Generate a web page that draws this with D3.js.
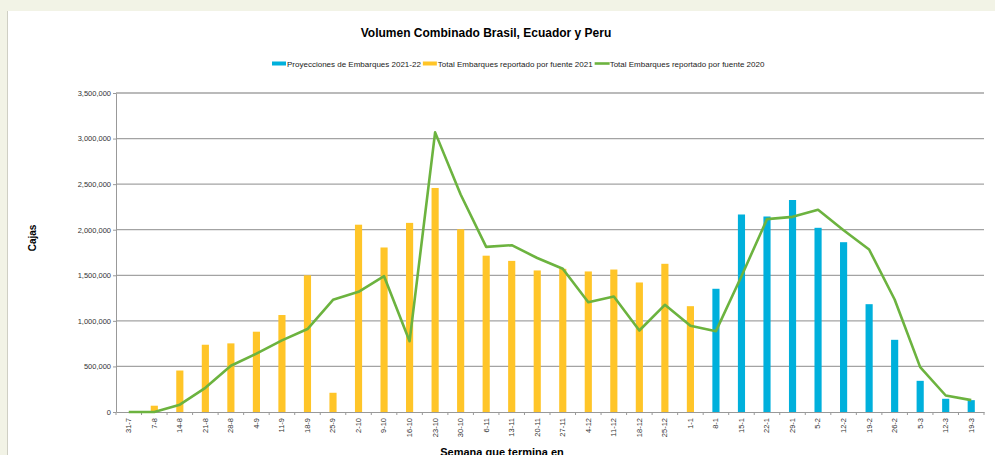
<!DOCTYPE html>
<html lang="es">
<head>
<meta charset="utf-8">
<style>
  body { margin: 0; background: #f2f3e6; }
  svg { display: block; font-family: 'Liberation Sans', Arial, sans-serif; }
  .axis text { fill: #333; }
  .axis path, .axis line { stroke: #999; }
  .grid line { stroke: #a3a3a3; stroke-width: 1.3px; }
</style>
</head>
<body>
<svg width="995" height="455"></svg>
<script src="https://d3js.org/d3.v7.min.js"></script>
<script>
// semana que termina en
const categories = ["31-7","7-8","14-8","21-8","28-8","4-9","11-9","18-9","25-9","2-10","9-10","16-10",
  "23-10","30-10","6-11","13-11","20-11","27-11","4-12","11-12","18-12","25-12","1-1","8-1",
  "15-1","22-1","29-1","5-2","12-2","19-2","26-2","5-3","12-3","19-3"]

// Total Embarques reportado por fuente 2021 (amarillo)
const reported2021 = [0, 69000, 455000, 738000, 753000, 881000, 1064000, 1500000, 211000, 2055000,
  1805000, 2075000, 2458000, 2005000, 1715000, 1658000, 1553000, 1571000, 1542000, 1563000,
  1421000, 1626000, 1161000, null, null, null, null, null, null, null, null, null, null, null]

// Proyecciones de Embarques 2021-22 (azul)
const projections = [null, null, null, null, null, null, null, null, null, null, null, null,
  null, null, null, null, null, null, null, null, null, null, null, 1352000,
  2167000, 2145000, 2326000, 2021000, 1863000, 1183000, 792000, 342000, 145000, 130000]

// Total Embarques reportado por fuente 2020 (linea verde)
const reported2020 = [0, 0, 80000, 265000, 508000, 640000, 786000, 910000, 1231000, 1319000,
  1490000, 777000, 3068000, 2386000, 1812000, 1830000, 1690000, 1571000, 1205000, 1267000,
  894000, 1176000, 947000, 887000, 1490000, 2116000, 2141000, 2218000, 1995000, 1783000,
  1234000, 492000, 181000, 130000]

const yTicks = [0, 500000, 1000000, 1500000, 2000000, 2500000, 3000000, 3500000]

const colors = { proj: "#00b0dc", rep2021: "#ffc528", rep2020: "#6cb33f" }

const width = 995
const height = 455
const margin = { top: 93, right: 11, bottom: 43, left: 116 }

const svg = d3.select("svg")

// panel
svg.append("rect").attr("x", 7).attr("y", 11).attr("width", width).attr("height", height)
  .attr("fill", "white")
svg.append("line").attr("x1", 7.5).attr("x2", 7.5).attr("y1", 11).attr("y2", height)
  .attr("stroke", "#cfcfc4")

const x = d3.scaleBand().domain(categories)
  .range([margin.left, width - margin.right]).padding(0)
const y = d3.scaleLinear().domain([0, 3500000]).range([height - margin.bottom, margin.top])

const cx = d => x(d) + x.bandwidth() / 2
const barW = x.bandwidth() * 0.28

// gridlines
svg.append("g").attr("class", "grid")
  .selectAll("line").data(yTicks.slice(1)).join("line")
  .attr("x1", margin.left).attr("x2", width - margin.right)
  .attr("y1", d => y(d)).attr("y2", d => y(d))

// bars
const barData = categories.map((c, i) => ({ c: c, v: reported2021[i], s: "rep2021" }))
  .concat(categories.map((c, i) => ({ c: c, v: projections[i], s: "proj" })))
  .filter(d => d.v != null && d.v > 0)

svg.append("g").selectAll("rect").data(barData).join("rect")
  .attr("x", d => cx(d.c) - barW / 2)
  .attr("width", barW)
  .attr("y", d => y(d.v))
  .attr("height", d => y(0) - y(d.v))
  .attr("fill", d => colors[d.s])

// axes
const yAxis = d3.axisLeft(y).tickValues(yTicks).tickSize(3).tickSizeOuter(0)
  .tickFormat(d3.format(","))
svg.append("g").attr("class", "axis y-axis")
  .attr("transform", "translate(" + margin.left + ",0)")
  .call(yAxis)
  .call(g => g.selectAll("text").attr("font-size", 7.5).attr("x", -5))

const xAxis = d3.axisBottom(x).tickSize(0).tickSizeOuter(0)
const xg = svg.append("g").attr("class", "axis x-axis")
  .attr("transform", "translate(0," + y(0) + ")")
  .call(xAxis)
xg.selectAll("text")
  .attr("font-size", 7.5)
  .attr("transform", "rotate(-90)")
  .attr("text-anchor", "end")
  .attr("x", -6).attr("y", 0).attr("dy", "0.32em")
// ticks between categories
xg.selectAll("line.sep").data(categories.concat(["__end"])).join("line")
  .attr("class", "sep")
  .attr("x1", (d, i) => margin.left + i * x.step())
  .attr("x2", (d, i) => margin.left + i * x.step())
  .attr("y1", 0).attr("y2", 3)

// line 2020
const line = d3.line()
  .x((d, i) => cx(categories[i]))
  .y(d => y(d))
svg.append("path").datum(reported2020)
  .attr("d", line)
  .attr("fill", "none")
  .attr("stroke", colors.rep2020)
  .attr("stroke-width", 2.6)
  .attr("stroke-linejoin", "round")

// title
svg.append("text").attr("x", 486).attr("y", 37)
  .attr("text-anchor", "middle").attr("font-size", 12).attr("font-weight", "bold")
  .text("Volumen Combinado Brasil, Ecuador y Peru")

// axis titles
svg.append("text")
  .attr("transform", "translate(36,238) rotate(-90)")
  .attr("text-anchor", "middle").attr("font-size", 10).attr("font-weight", "bold")
  .text("Cajas")
svg.append("text").attr("x", 502).attr("y", 456)
  .attr("text-anchor", "middle").attr("font-size", 11).attr("font-weight", "bold")
  .text("Semana que termina en")

// legend
const legendItems = [
  { key: "proj", label: "Proyecciones de Embarques 2021-22", type: "rect" },
  { key: "rep2021", label: "Total Embarques reportado por fuente 2021", type: "rect" },
  { key: "rep2020", label: "Total Embarques reportado por fuente 2020", type: "line" }
]
const legend = svg.append("g").attr("transform", "translate(272,0)")
let lx = 0
legendItems.forEach(item => {
  if (item.type === "rect") {
    legend.append("rect").attr("x", lx).attr("y", 61.5).attr("width", 14).attr("height", 4)
      .attr("fill", colors[item.key])
  } else {
    legend.append("line").attr("x1", lx).attr("x2", lx + 15).attr("y1", 63.5).attr("y2", 63.5)
      .attr("stroke", colors[item.key]).attr("stroke-width", 2.6)
  }
  const t = legend.append("text").attr("x", lx + 15).attr("y", 66.5)
    .attr("font-size", 8).attr("fill", "#222").text(item.label)
  lx += 15 + t.node().getComputedTextLength() + 2
})
</script>
</body>
</html>
